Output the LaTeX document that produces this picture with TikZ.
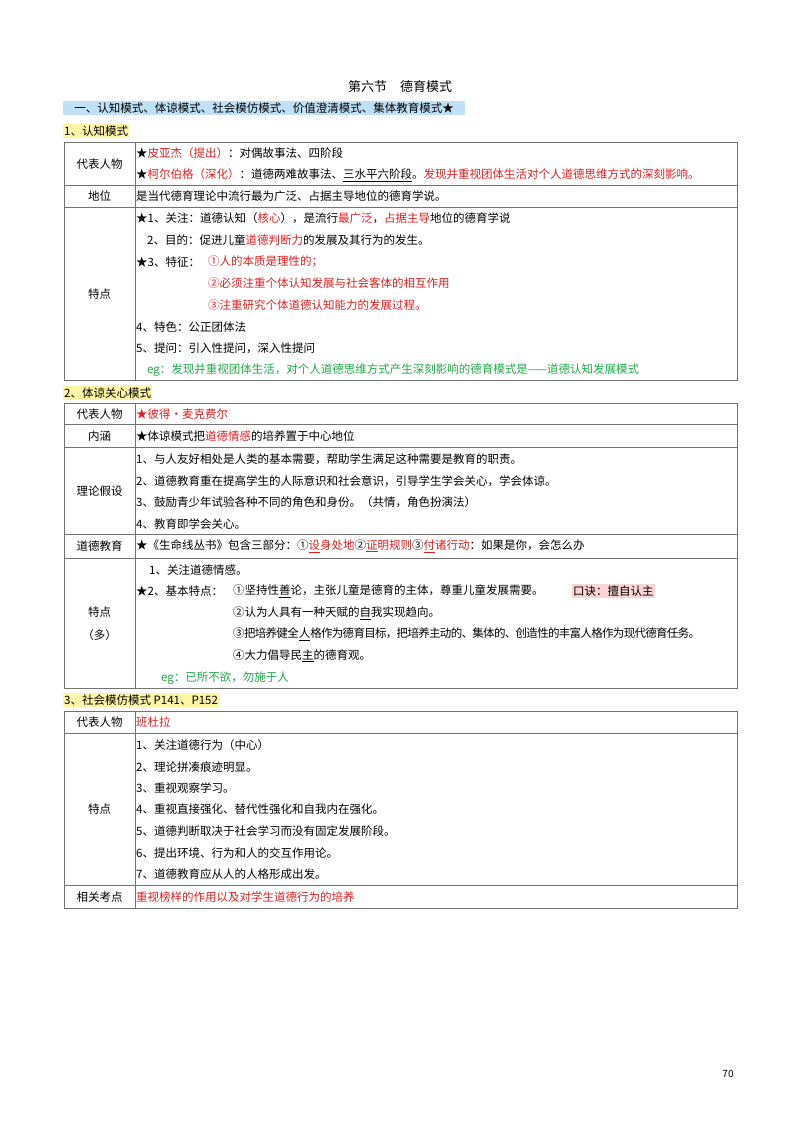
\documentclass[tikz,border=0pt]{standalone}
\usepackage{fontspec}
\setmainfont{Noto Sans CJK SC}
\usetikzlibrary{positioning}
\definecolor{redtxt}{HTML}{E0201F}
\definecolor{greentxt}{HTML}{20AC48}
\definecolor{blueband}{HTML}{BFE1F7}
\definecolor{yellowband}{HTML}{FFF5A6}
\definecolor{pinkband}{HTML}{F8D4D4}
\tikzset{
	%page styles
	txt/.style={
		anchor=west,
		inner sep=0pt,
		font=\fontsize{11.5}{14}\selectfont,
	},
	label/.style={
		anchor=center,
		inner sep=0pt,
		font=\fontsize{11.5}{14}\selectfont,
	},
	band/.style={
		anchor=west,
		inner xsep=1pt,
		inner ysep=2pt,
		font=\fontsize{11.5}{14}\selectfont,
	},
	rule/.style={
		draw=black!55,
		line width=0.8pt,
	},
}
\newcommand{\rd}[1]{\textcolor{redtxt}{#1}}
\begin{document}
\begin{tikzpicture}[x=1pt, y=-1pt]
	\useasboundingbox[fill=white] (0,0) rectangle (800,1130);
	\node (title) at (400,87) [label, font=\fontsize{13}{15}\selectfont] {第六节\quad 德育模式};
	\node (head) at (63,108) [band, fill=blueband, minimum width=402pt] {一、认知模式、体谅模式、社会模仿模式、价值澄清模式、集体教育模式★};

	% 1 table
	\node (headA) at (63,131) [band, fill=yellowband] {1、认知模式};
	\draw[rule] (64,142) rectangle (737,380);
	\draw[rule] (135,142) -- (135,380);
	\draw[rule] (64,185) -- (737,185);
	\draw[rule] (64,207) -- (737,207);
	\node (a1) at (99.5,164) [label] {代表人物};
	\node (a2) at (99.5,196) [label] {地位};
	\node (a3) at (99.5,294) [label] {特点};
	\node (a1a) at (136,153) [txt] {★\rd{皮亚杰（提出）}：对偶故事法、四阶段};
	\node (a1b) at (136,175) [txt] {★\rd{柯尔伯格（深化）}：道德两难故事法、\underline{三水平六阶段}。\rd{发现并重视团体生活对个人道德思维方式的深刻影响。}};
	\node (a2a) at (136,196) [txt] {是当代德育理论中流行最为广泛、占据主导地位的德育学说。};
	\node (a3a) at (136,218) [txt] {★1、关注：道德认知（\rd{核心}），是流行\rd{最广泛}，\rd{占据主导}地位的德育学说};
	\node (a3b) at (147,240) [txt] {2、目的：促进儿童\rd{道德判断力}的发展及其行为的发生。};
	\node (a3c) at (136,262) [txt] {★3、特征：};
	\node (a3c1) at (208,262) [txt, text=redtxt] {①人的本质是理性的；};
	\node (a3c2) at (208,283) [txt, text=redtxt] {②必须注重个体认知发展与社会客体的相互作用};
	\node (a3c3) at (208,305) [txt, text=redtxt] {③注重研究个体道德认知能力的发展过程。};
	\node (a3d) at (136,327) [txt] {4、特色：公正团体法};
	\node (a3e) at (136,348) [txt] {5、提问：引入性提问，深入性提问};
	\node (a3f) at (147,370) [txt, text=greentxt] {eg：发现并重视团体生活，对个人道德思维方式产生深刻影响的德育模式是——道德认知发展模式};

	% 2 table
	\node (headB) at (63,393) [band, fill=yellowband] {2、体谅关心模式};
	\draw[rule] (64,403) rectangle (737,688);
	\draw[rule] (135,403) -- (135,688);
	\foreach \y in {424,447,534,558}
		\draw[rule] (64,\y) -- (737,\y);
	\node (b1) at (99.5,414) [label] {代表人物};
	\node (b2) at (99.5,436) [label] {内涵};
	\node (b3) at (99.5,491) [label] {理论假设};
	\node (b4) at (99.5,546) [label] {道德教育};
	\node (b5) at (99.5,612) [label] {特点};
	\node (b5x) at (99.5,635) [label] {（多）};
	\node (b1a) at (136,414) [txt, text=redtxt] {★彼得·麦克费尔};
	\node (b2a) at (136,436) [txt] {★体谅模式把\rd{道德情感}的培养置于中心地位};
	\node (b3a) at (136,459) [txt] {1、与人友好相处是人类的基本需要，帮助学生满足这种需要是教育的职责。};
	\node (b3b) at (136,481) [txt] {2、道德教育重在提高学生的人际意识和社会意识，引导学生学会关心，学会体谅。};
	\node (b3c) at (136,502) [txt] {3、鼓励青少年试验各种不同的角色和身份。（共情，角色扮演法）};
	\node (b3d) at (136,524) [txt] {4、教育即学会关心。};
	\node (b4a) at (136,546) [txt] {★《生命线丛书》包含三部分：①\rd{\underline{设}身处地}②\rd{\underline{证}明规则}③\rd{\underline{付}诸行动}：如果是你，会怎么办};
	\node (b5a) at (149,570) [txt] {1、关注道德情感。};
	\node (b5b) at (136,591) [txt] {★2、基本特点：};
	\node (b5b1) at (233,591) [txt] {①坚持性\underline{善}论，主张儿童是德育的主体，尊重儿童发展需要。};
	\node (b5k) at (572,591) [band, fill=pinkband] {口诀：擅自认主};
	\node (b5b2) at (233,613) [txt] {②认为人具有一种天赋的\underline{自}我实现趋向。};
	\node (b5b3) at (233,634) [txt, font=\fontsize{11.5}{14}\selectfont\addfontfeature{LetterSpace=-6}] {③把培养健全\underline{人}格作为德育目标，把培养主动的、集体的、创造性的丰富人格作为现代德育任务。};
	\node (b5b4) at (233,656) [txt] {④大力倡导民\underline{主}的德育观。};
	\node (b5c) at (161,678) [txt, text=greentxt] {eg：已所不欲，勿施于人};

	% 3 table
	\node (headC) at (63,700) [band, fill=yellowband] {3、社会模仿模式 P141、P152};
	\draw[rule] (64,711) rectangle (737,908);
	\draw[rule] (135,711) -- (135,908);
	\draw[rule] (64,733) -- (737,733);
	\draw[rule] (64,885) -- (737,885);
	\node (c1) at (99.5,722) [label] {代表人物};
	\node (c2) at (99.5,809) [label] {特点};
	\node (c3) at (99.5,897) [label] {相关考点};
	\node (c1a) at (136,722) [txt, text=redtxt] {班杜拉};
	\node (c2a) at (136,745) [txt] {1、关注道德行为（中心）};
	\node (c2b) at (136,767) [txt] {2、理论拼凑痕迹明显。};
	\node (c2c) at (136,788) [txt] {3、重视观察学习。};
	\node (c2d) at (136,809) [txt] {4、重视直接强化、替代性强化和自我内在强化。};
	\node (c2e) at (136,831) [txt] {5、道德判断取决于社会学习而没有固定发展阶段。};
	\node (c2f) at (136,853) [txt] {6、提出环境、行为和人的交互作用论。};
	\node (c2g) at (136,874) [txt] {7、道德教育应从人的人格形成出发。};
	\node (c3a) at (136,897) [txt, text=redtxt] {重视榜样的作用以及对学生道德行为的培养};

	\node (page) at (728,1074) [label, font=\fontsize{10}{12}\selectfont] {70};
\end{tikzpicture}
\end{document}
